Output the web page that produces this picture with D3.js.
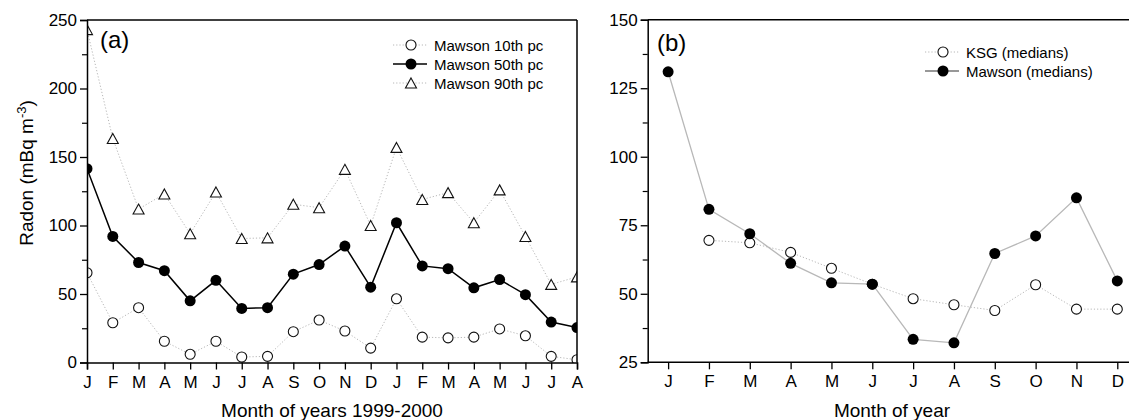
<!DOCTYPE html>
<html lang="en">
<head>
<meta charset="UTF-8">
<title>Radon Mawson / KSG</title>
<script src="https://d3js.org/d3.v7.min.js"></script>
<style>
  body { margin: 0; background: #fff; }
  svg { display: block; font-family: "Liberation Sans", Arial, sans-serif; }
</style>
</head>
<body>
<div id="chart"></div>
<script>
// panel (a): monthly percentiles at Mawson, Jan 1999 - Aug 2000
const monthsA = ["J","F","M","A","M","J","J","A","S","O","N","D","J","F","M","A","M","J","J","A"];
const p10 = [65.5, 29, 40, 15.5, 6, 15.5, 4, 4.5, 22.5, 31, 23, 10.5, 46.5, 18.5, 18, 18.5, 24.5, 19.5, 4.5, 2];
const p50 = [141.5, 92, 73, 67, 45, 60, 39.5, 40, 64.5, 71.5, 85, 55, 102, 70.5, 68.5, 54.5, 60.5, 49.5, 29.5, 25.5];
const p90 = [243, 163.5, 112, 123, 94, 124.5, 90.5, 91, 115.5, 113, 141, 100, 157, 119, 124, 102, 126, 92, 57, 62.5];
const ticksA = [0, 50, 100, 150, 200, 250];

// panel (b): monthly medians
const monthsB = ["J","F","M","A","M","J","J","A","S","O","N","D"];
const ksg = [null, 69.5, 68.6, 65.1, 59.3, 53.5, 48.2, 46, 43.9, 53.3, 44.4, 44.4];
const mawson = [131, 80.8, 71.9, 61.1, 54, 53.5, 33.4, 32.1, 64.7, 71.1, 85, 54.7];
const ticksB = [25, 50, 75, 100, 125, 150];

const W = 1129, H = 420;
const svg = d3.select("#chart").append("svg")
    .attr("width", W)
    .attr("height", H);

const grey = "#b8b8b8";

// triangle centred on its box
function tri(w, h) {
    return "M0," + (-h / 2) + "L" + (w / 2) + "," + (h / 2) + "L" + (-w / 2) + "," + (h / 2) + "Z";
}

function drawMarkers(g, data, x, y, kind) {
    const pts = data.map((v, i) => ({i: i, v: v})).filter(d => d.v != null);
    if (kind === "tri") {
        g.selectAll(null).data(pts).enter().append("path")
            .attr("d", tri(11, 10))
            .attr("transform", d => "translate(" + x(d.i) + "," + y(d.v) + ")")
            .attr("fill", "#fff").attr("stroke", "#111").attr("stroke-width", 1.1);
    } else {
        g.selectAll(null).data(pts).enter().append("circle")
            .attr("cx", d => x(d.i)).attr("cy", d => y(d.v))
            .attr("r", kind === "open" ? 5 : 5.5)
            .attr("fill", kind === "open" ? "#fff" : "#000")
            .attr("stroke", kind === "open" ? "#111" : "none")
            .attr("stroke-width", 1.1);
    }
}

function drawLine(g, data, x, y, stroke, width, dash) {
    const line = d3.line()
        .defined(d => d != null)
        .x((d, i) => x(i))
        .y(d => y(d));
    g.append("path")
        .attr("d", line(data))
        .attr("fill", "none")
        .attr("stroke", stroke)
        .attr("stroke-width", width)
        .attr("stroke-dasharray", dash);
}

function legend(g, x0, y0, rows) {
    rows.forEach((r, k) => {
        const yy = y0 + k * 19;
        g.append("line")
            .attr("x1", x0).attr("x2", x0 + 34).attr("y1", yy).attr("y2", yy)
            .attr("stroke", r.stroke).attr("stroke-width", r.width).attr("stroke-dasharray", r.dash);
        const m = g.append("g");
        drawMarkers(m, [0], () => x0 + 18, () => yy, r.kind);
        g.append("text")
            .attr("x", x0 + 41).attr("y", yy + 5.5)
            .attr("font-size", 15)
            .text(r.label);
    });
}

function frame(g, x0, x1, y0, y1, right) {
    g.append("line").attr("x1", x0).attr("x2", x1).attr("y1", y0).attr("y2", y0)
        .attr("stroke", "#000").attr("stroke-width", 1.5);
    if (right) {
        g.append("line").attr("x1", x1).attr("x2", x1).attr("y1", y0).attr("y2", y1)
            .attr("stroke", "#000").attr("stroke-width", 1.5);
    }
}

function styleAxis(ax) {
    ax.select(".domain").attr("stroke-width", 1.5);
    ax.selectAll(".tick line").attr("stroke-width", 1.3);
    ax.selectAll("text").attr("font-size", 17).attr("fill", "#000")
        .attr("font-family", "Liberation Sans, Arial, sans-serif");
}

// ---------- panel (a)
const xA = d3.scaleLinear().domain([0, 19]).range([87, 577]);
const yA = d3.scaleLinear().domain([0, 250]).range([362.5, 20]);

svg.append("clipPath").attr("id", "clipA")
    .append("rect").attr("x", 87).attr("y", 0).attr("width", 577 - 87).attr("height", 363);

const gA = svg.append("g").attr("clip-path", "url(#clipA)");
drawLine(gA, p10, xA, yA, grey, 1, "1.2,2");
drawLine(gA, p90, xA, yA, grey, 1, "1.2,2");
drawLine(gA, p50, xA, yA, "#000", 1.5, null);
drawMarkers(gA, p10, xA, yA, "open");
drawMarkers(gA, p90, xA, yA, "tri");
drawMarkers(gA, p50, xA, yA, "filled");

const axYA = svg.append("g").attr("transform", "translate(87,0)")
    .call(d3.axisLeft(yA).tickValues(ticksA).tickSize(7).tickPadding(3));
styleAxis(axYA);
svg.append("g").attr("transform", "translate(87,0)")
    .call(d3.axisLeft(yA).tickValues([25, 75, 125, 175, 225]).tickSize(5).tickFormat(""))
    .call(a => a.select(".domain").remove())
    .selectAll("line").attr("stroke-width", 1.2);

const axXA = svg.append("g").attr("transform", "translate(0,362.5)")
    .call(d3.axisBottom(xA).tickValues(d3.range(monthsA.length)).tickSize(7).tickPadding(6)
        .tickFormat(i => monthsA[i]));
styleAxis(axXA);
frame(svg, 87, 577, 20, 362.5, true);

svg.append("text").attr("x", 100).attr("y", 48).attr("font-size", 24).text("(a)");

legend(svg, 393, 45, [
    {label: "Mawson 10th pc", kind: "open", stroke: grey, width: 1, dash: "1.2,2"},
    {label: "Mawson 50th pc", kind: "filled", stroke: "#000", width: 1.5, dash: null},
    {label: "Mawson 90th pc", kind: "tri", stroke: grey, width: 1, dash: "1.2,2"}
]);

const ylab = svg.append("text")
    .attr("transform", "translate(33,173) rotate(-90)")
    .attr("text-anchor", "middle")
    .attr("font-size", 19);
ylab.append("tspan").text("Radon (mBq m");
ylab.append("tspan").attr("dy", -7).attr("font-size", 13).text("-3");
ylab.append("tspan").attr("dy", 7).text(")");

svg.append("text").attr("x", 332).attr("y", 417).attr("text-anchor", "middle")
    .attr("font-size", 19).text("Month of years 1999-2000");

// ---------- panel (b)
const xB = d3.scaleLinear().domain([-0.5, 11.25]).range([647.7, 1127.5]);
const yB = d3.scaleLinear().domain([25, 150]).range([362.3, 19.7]);

const gB = svg.append("g");
drawLine(gB, ksg, xB, yB, grey, 1, "1.2,2");
drawLine(gB, mawson, xB, yB, grey, 1.3, null);
drawMarkers(gB, ksg, xB, yB, "open");
drawMarkers(gB, mawson, xB, yB, "filled");

const axYB = svg.append("g").attr("transform", "translate(647.7,0)")
    .call(d3.axisLeft(yB).tickValues(ticksB).tickSize(7).tickPadding(3));
styleAxis(axYB);
svg.append("g").attr("transform", "translate(647.7,0)")
    .call(d3.axisLeft(yB).tickValues([37.5, 62.5, 87.5, 112.5, 137.5]).tickSize(5).tickFormat(""))
    .call(a => a.select(".domain").remove())
    .selectAll("line").attr("stroke-width", 1.2);

const axXB = svg.append("g").attr("transform", "translate(0,362.3)")
    .call(d3.axisBottom(xB).tickValues(d3.range(monthsB.length)).tickSize(7).tickPadding(6)
        .tickFormat(i => monthsB[i]));
axXB.select(".domain").attr("d", "M647.7,0H1129");
styleAxis(axXB);
frame(svg, 647.7, 1129, 19.7, 362.3, false);

svg.append("text").attr("x", 657).attr("y", 51).attr("font-size", 24).text("(b)");

legend(svg, 925, 52, [
    {label: "KSG (medians)", kind: "open", stroke: grey, width: 1, dash: "1.2,2"},
    {label: "Mawson (medians)", kind: "filled", stroke: "#333", width: 1.2, dash: null}
]);

svg.append("text").attr("x", 892).attr("y", 417).attr("text-anchor", "middle")
    .attr("font-size", 19).text("Month of year");
</script>
</body>
</html>
